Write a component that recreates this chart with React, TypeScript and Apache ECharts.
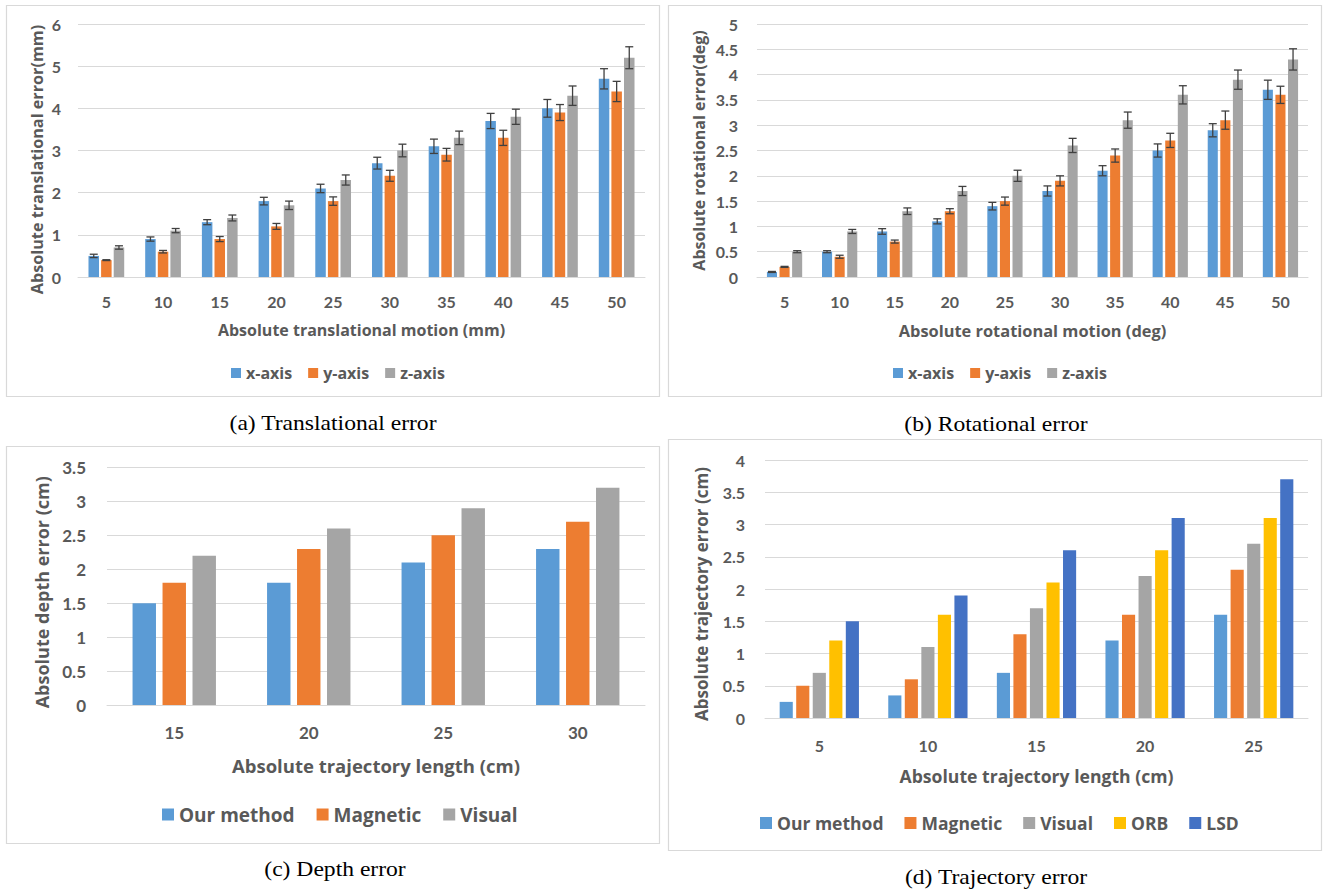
import React, { useEffect, useRef } from "react";
import * as echarts from "echarts";

// ---------- data ----------
const motionCats = ["5", "10", "15", "20", "25", "30", "35", "40", "45", "50"];
const axisNames = ["x-axis", "y-axis", "z-axis"];

// (a) translational error (mm)
const transX = [0.5, 0.9, 1.3, 1.8, 2.1, 2.7, 3.1, 3.7, 4.0, 4.7];
const transY = [0.4, 0.6, 0.9, 1.2, 1.8, 2.4, 2.9, 3.3, 3.9, 4.4];
const transZ = [0.7, 1.1, 1.4, 1.7, 2.3, 3.0, 3.3, 3.8, 4.3, 5.2];
const transXErr = [0.04, 0.05, 0.06, 0.09, 0.1, 0.14, 0.17, 0.18, 0.21, 0.24];
const transYErr = [0.01, 0.03, 0.06, 0.07, 0.1, 0.13, 0.15, 0.18, 0.19, 0.24];
const transZErr = [0.04, 0.05, 0.07, 0.1, 0.12, 0.15, 0.16, 0.18, 0.23, 0.26];

// (b) rotational error (deg)
const rotX = [0.1, 0.5, 0.9, 1.1, 1.4, 1.7, 2.1, 2.5, 2.9, 3.7];
const rotY = [0.2, 0.4, 0.7, 1.3, 1.5, 1.9, 2.4, 2.7, 3.1, 3.6];
const rotZ = [0.5, 0.9, 1.3, 1.7, 2.0, 2.6, 3.1, 3.6, 3.9, 4.3];
const rotXErr = [0.01, 0.02, 0.055, 0.05, 0.075, 0.1, 0.1, 0.13, 0.13, 0.19];
const rotYErr = [0.01, 0.03, 0.03, 0.05, 0.08, 0.1, 0.13, 0.14, 0.18, 0.17];
const rotZErr = [0.02, 0.04, 0.065, 0.09, 0.11, 0.14, 0.16, 0.18, 0.19, 0.21];

// (c) depth error (cm)
const depthCats = ["15", "20", "25", "30"];
const depthOur = [1.5, 1.8, 2.1, 2.3];
const depthMag = [1.8, 2.3, 2.5, 2.7];
const depthVis = [2.2, 2.6, 2.9, 3.2];

// (d) trajectory error (cm)
const trajCats = ["5", "10", "15", "20", "25"];
const trajOur = [0.25, 0.35, 0.7, 1.2, 1.6];
const trajMag = [0.5, 0.6, 1.3, 1.6, 2.3];
const trajVis = [0.7, 1.1, 1.7, 2.2, 2.7];
const trajORB = [1.2, 1.6, 2.1, 2.6, 3.1];
const trajLSD = [1.5, 1.9, 2.6, 3.1, 3.7];

const methodNames3 = ["Our method", "Magnetic", "Visual"];
const methodNames5 = ["Our method", "Magnetic", "Visual", "ORB", "LSD"];

// ---------- styles ----------
const BLUE = "#5B9BD5";
const ORANGE = "#ED7D31";
const GRAY = "#A5A5A5";
const YELLOW = "#FFC000";
const NAVY = "#4472C4";
const TXT = "#595959";
const GRID = "#D9D9D9";
const FONT = "Lato";
const FONT_T = "Open Sans";

const layouts = [
  { cg: 0.37, g: 0.2 },
  { cg: 0.36, g: 0.25 },
  { cg: 0.38, g: 0.28 },
  { cg: 0.27, g: 0.26 },
];

function errRender(n: number, i: number, cg: number, g: number) {
  return (params: any, api: any) => {
    const idx = api.value(0);
    const v = api.value(1);
    const e = api.value(2);
    const W = api.size([1, 0])[0];
    const usable = W * (1 - cg);
    const bw = usable / (n + (n - 1) * g);
    const off = -usable / 2 + i * bw * (1 + g) + bw / 2;
    const top = api.coord([idx, v + e]);
    const bot = api.coord([idx, v - e]);
    const x = top[0] + off;
    const cap = 4;
    const style = { stroke: "#404040", lineWidth: 1.3 };
    return {
      type: "group",
      children: [
        { type: "line", shape: { x1: x, y1: top[1], x2: x, y2: bot[1] }, style },
        { type: "line", shape: { x1: x - cap, y1: top[1], x2: x + cap, y2: top[1] }, style },
        { type: "line", shape: { x1: x - cap, y1: bot[1], x2: x + cap, y2: bot[1] }, style },
      ],
    };
  };
}

function barSeries(name: string, data: number[], color: string, k: number) {
  return {
    type: "bar",
    name,
    data,
    xAxisIndex: k,
    yAxisIndex: k,
    itemStyle: { color },
    barCategoryGap: Math.round(layouts[k].cg * 100) + "%",
    barGap: Math.round(layouts[k].g * 100) + "%",
    emphasis: { disabled: true },
  };
}

function errSeries(name: string, vals: number[], errs: number[], k: number, i: number, n: number) {
  return {
    type: "custom",
    name: name + " error",
    xAxisIndex: k,
    yAxisIndex: k,
    z: 5,
    encode: { x: 0, y: 1 },
    data: vals.map((v, j) => [j, v, errs[j]]),
    renderItem: errRender(n, i, layouts[k].cg, layouts[k].g),
    silent: true,
  };
}

function xAxis(k: number, data: string[], name: string, fontSize: number, margin: number, nameSize: number, nameGap: number) {
  return {
    type: "category",
    gridIndex: k,
    data,
    axisLine: { show: true, lineStyle: { color: GRID, width: 1 } },
    axisTick: { show: false },
    axisLabel: { color: TXT, fontFamily: FONT, fontWeight: "bold", fontSize, margin },
    name,
    nameLocation: "middle",
    nameGap,
    nameTextStyle: { color: TXT, fontFamily: FONT_T, fontWeight: "bold", fontSize: nameSize },
  };
}

function yAxis(
  k: number,
  max: number,
  interval: number,
  name: string,
  fontSize: number,
  margin: number,
  nameSize: number,
  nameGap: number,
  shiftDown: number
) {
  return {
    type: "value",
    gridIndex: k,
    min: 0,
    max,
    interval,
    axisLine: { show: false },
    axisTick: { show: false },
    splitLine: { show: true, lineStyle: { color: GRID, width: 1 } },
    axisLabel: { color: TXT, fontFamily: FONT, fontWeight: "bold", fontSize, margin },
    name,
    nameLocation: "middle",
    nameRotate: 90,
    nameGap,
    nameTextStyle: {
      color: TXT,
      fontFamily: FONT_T,
      fontWeight: "bold",
      fontSize: nameSize,
      padding: [0, shiftDown * 2, 0, 0],
    },
  };
}

function legend(left: number, top: number, data: string[], size: number, fontSize: number, itemGap: number) {
  return {
    left,
    top,
    padding: 0,
    orient: "horizontal",
    icon: "rect",
    itemWidth: size,
    itemHeight: size,
    itemGap,
    selectedMode: false,
    data,
    textStyle: { color: TXT, fontFamily: FONT_T, fontWeight: "bold", fontSize },
  };
}

function box(x: number, y: number, w: number, h: number) {
  return {
    type: "rect",
    shape: { x, y, width: w, height: h },
    style: { fill: "none", stroke: GRID, lineWidth: 1.2 },
    silent: true,
  };
}

function caption(text: string, x: number, y: number) {
  return {
    type: "text",
    x,
    y,
    scaleX: 1.18,
    style: {
      text,
      fontFamily: "Liberation Serif",
      fontSize: 20,
      fill: "#000",
      textAlign: "center",
      textVerticalAlign: "middle",
      align: "center",
      verticalAlign: "middle",
    },
    silent: true,
  };
}

export default function App() {
  const ref = useRef<HTMLDivElement>(null);
  useEffect(() => {
    if (!ref.current) return;
    const chart = echarts.init(ref.current, null, { renderer: "svg" });
    const option: any = {
      animation: false,
      backgroundColor: "#fff",
      grid: [
        { left: 78, top: 24, width: 567, height: 253 },
        { left: 757, top: 24, width: 551, height: 253 },
        { left: 107, top: 467.5, width: 538, height: 237.5 },
        { left: 765, top: 460, width: 543, height: 258 },
      ],
      xAxis: [
        xAxis(0, motionCats, "Absolute translational motion (mm)", 16, 16, 16, 45),
        xAxis(1, motionCats, "Absolute rotational motion (deg)", 16, 16, 16.4, 45),
        xAxis(2, depthCats, "Absolute trajectory length (cm)", 17, 19, 18.5, 51),
        xAxis(3, trajCats, "Absolute trajectory length (cm)", 16, 19, 17.6, 49),
      ],
      yAxis: [
        yAxis(0, 6, 1, "Absolute translational error(mm)", 16, 17, 16.2, 33, 9),
        yAxis(1, 5, 0.5, "Absolute rotational error(deg)", 16, 19, 16, 50, 0),
        yAxis(2, 3.5, 0.5, "Absolute depth error (cm)", 17, 21, 18, 56, 6),
        yAxis(3, 4, 0.5, "Absolute trajectory error (cm)", 16, 20, 17, 55, 5),
      ],
      legend: [
        legend(231, 365, axisNames, 10, 16, 16),
        legend(893, 365, axisNames, 10, 16, 16),
        legend(162, 805, methodNames3, 12, 19, 22),
        legend(760, 814, methodNames5, 12, 17.5, 21),
      ],
      series: [
        barSeries("x-axis", transX, BLUE, 0),
        barSeries("y-axis", transY, ORANGE, 0),
        barSeries("z-axis", transZ, GRAY, 0),
        errSeries("x-axis", transX, transXErr, 0, 0, 3),
        errSeries("y-axis", transY, transYErr, 0, 1, 3),
        errSeries("z-axis", transZ, transZErr, 0, 2, 3),

        barSeries("x-axis", rotX, BLUE, 1),
        barSeries("y-axis", rotY, ORANGE, 1),
        barSeries("z-axis", rotZ, GRAY, 1),
        errSeries("x-axis", rotX, rotXErr, 1, 0, 3),
        errSeries("y-axis", rotY, rotYErr, 1, 1, 3),
        errSeries("z-axis", rotZ, rotZErr, 1, 2, 3),

        barSeries("Our method", depthOur, BLUE, 2),
        barSeries("Magnetic", depthMag, ORANGE, 2),
        barSeries("Visual", depthVis, GRAY, 2),

        barSeries("Our method", trajOur, BLUE, 3),
        barSeries("Magnetic", trajMag, ORANGE, 3),
        barSeries("Visual", trajVis, GRAY, 3),
        barSeries("ORB", trajORB, YELLOW, 3),
        barSeries("LSD", trajLSD, NAVY, 3),
      ],
      graphic: [
        box(6.5, 5.5, 653, 391),
        box(668.5, 5.5, 653, 391),
        box(6.5, 446.5, 653, 397),
        box(668.5, 439.5, 653, 411),
        caption("(a) Translational error", 333, 424),
        caption("(b) Rotational error", 996, 425),
        caption("(c) Depth error", 335, 870),
        caption("(d) Trajectory error", 996, 878),
      ],
    };
    chart.setOption(option);
    return () => chart.dispose();
  }, []);
  return (
    <div
      ref={ref}
      style={{ position: "fixed", left: 0, top: 0, width: 1324, height: 890, background: "#fff" }}
    />
  );
}
